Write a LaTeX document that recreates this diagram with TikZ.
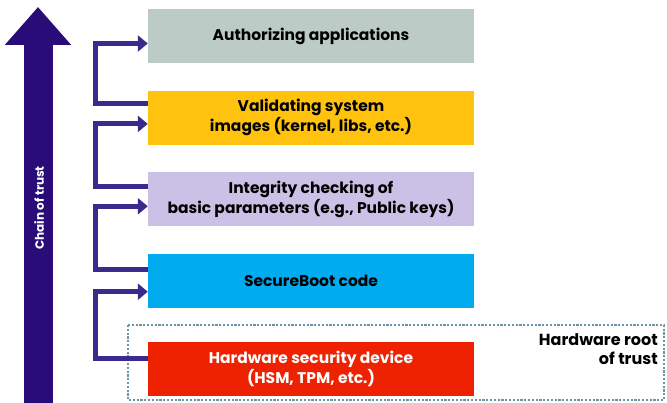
\documentclass[tikz,border=0pt]{standalone}
\usepackage{fontspec}
\setmainfont{Poppins}
\usetikzlibrary{positioning,arrows.meta}

\definecolor{chainblue}{HTML}{2A0C78}
\definecolor{linkblue}{HTML}{3B2A8E}
\definecolor{authgray}{HTML}{BDCBC6}
\definecolor{validyellow}{HTML}{FFC20E}
\definecolor{integlilac}{HTML}{CBC1E6}
\definecolor{bootblue}{HTML}{00ABF0}
\definecolor{hsmred}{HTML}{EE2200}
\definecolor{rootdash}{HTML}{6D93A6}

\begin{document}
\begin{tikzpicture}[x=1pt,y=-1pt,
    box/.style={minimum width=326pt,minimum height=54pt,inner sep=0pt,align=center,
        font=\bfseries\fontsize{15.5}{20}\selectfont},
    link/.style={line width=5pt,draw=linkblue,-{Triangle[length=10pt,width=16pt]}},
    node distance=27pt]
\useasboundingbox (0,0) rectangle (667,403);

% chain of trust arrow
\draw[line width=29pt,draw=chainblue,-{Triangle[length=38pt,width=64pt]}] (38,410) -- (38,7);
\node[rotate=90,text=white,font=\bfseries\fontsize{12}{14}\selectfont] (chain) at (39,208) {Chain of trust};

% boxes
\node[box,fill=authgray] (auth) at (311,36.5) {Authorizing applications};
\node[box,fill=validyellow] (valid) [below=of auth] {Validating system\\images (kernel, libs, etc.)};
\node[box,fill=integlilac] (integ) [below=of valid] {Integrity checking of\\basic parameters (e.g., Public keys)};
\node[box,fill=bootblue] (boot) [below=of integ] {SecureBoot code};
\node[box,fill=hsmred,text=white] (hsm) [below=34pt of boot] {Hardware security device\\(HSM, TPM, etc.)};

% hardware root of trust
\draw[rootdash,line width=2pt,dash pattern=on 2.2pt off 1.6pt] (128,325) rectangle (664,400);
\node[align=right,anchor=north east,inner sep=0pt,font=\bfseries\fontsize{16}{19}\selectfont] (root) at (658,333) {Hardware root\\of trust};

% links
\draw[link] ([yshift=14pt]valid.west) -- ++(-52,0) |- ([yshift=-7pt]auth.west);
\draw[link] ([yshift=13pt]integ.west) -- ++(-52,0) |- ([yshift=-6pt]valid.west);
\draw[link] ([yshift=11pt]boot.west) -- ++(-52,0) |- ([yshift=-7pt]integ.west);
\draw[link] ([yshift=11pt]hsm.west) -- ++(-52,0) |- ([yshift=-11pt]boot.west);
\end{tikzpicture}
\end{document}
